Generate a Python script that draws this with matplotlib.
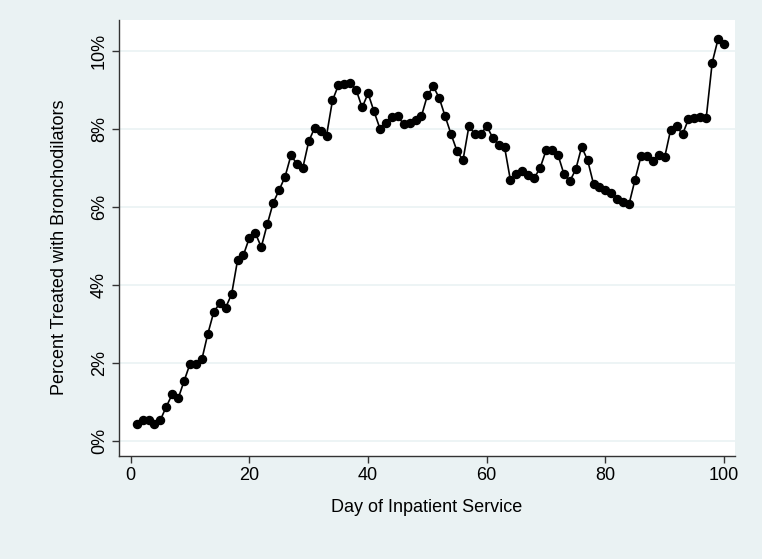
import matplotlib.pyplot as plt
from matplotlib.ticker import FuncFormatter

plt.rcParams['font.family'] = ['Liberation Sans', 'DejaVu Sans']

# day of service and share treated (in percent)
days = list(range(1, 101))
pct = [0.44, 0.55, 0.55, 0.44, 0.55, 0.89, 1.21, 1.10, 1.55, 1.99,
       1.98, 2.11, 2.76, 3.32, 3.54, 3.43, 3.77, 4.64, 4.78, 5.22,
       5.34, 4.98, 5.56, 6.11, 6.44, 6.78, 7.33, 7.12, 7.01, 7.69,
       8.04, 7.96, 7.84, 8.74, 9.13, 9.15, 9.19, 9.01, 8.56, 8.92,
       8.46, 8.02, 8.17, 8.31, 8.34, 8.13, 8.17, 8.23, 8.34, 8.87,
       9.10, 8.80, 8.33, 7.87, 7.44, 7.21, 8.08, 7.88, 7.88, 8.08,
       7.79, 7.61, 7.55, 6.69, 6.86, 6.93, 6.82, 6.75, 7.01, 7.46,
       7.48, 7.35, 6.86, 6.67, 6.97, 7.55, 7.21, 6.60, 6.52, 6.45,
       6.38, 6.22, 6.14, 6.09, 6.71, 7.31, 7.32, 7.19, 7.33, 7.29,
       7.99, 8.08, 7.87, 8.26, 8.30, 8.32, 8.30, 9.71, 10.32, 10.19]

xticks = [0, 20, 40, 60, 80, 100]
yticks = [0, 2, 4, 6, 8, 10]

bg = '#EAF2F3'
fig = plt.figure(figsize=(7.62, 5.59), dpi=100, facecolor=bg)
ax = fig.add_axes([0.156, 0.184, 0.809, 0.780])
ax.set_facecolor('white')

ax.plot(days, pct, color='black', lw=1.2, marker='o', ms=5.8, zorder=3)

ax.set_xlim(-2.0, 101.9)
ax.set_ylim(-0.38, 10.8)
ax.set_xticks(xticks)
ax.set_yticks(yticks)
ax.yaxis.set_major_formatter(FuncFormatter(lambda v, p: '%d%%' % v))
for lab in ax.get_yticklabels():
    lab.set_rotation(90)
    lab.set_va('center')

ax.grid(axis='y', color=bg, lw=1.2, zorder=0)
ax.set_axisbelow(True)
for s in ['top', 'right']:
    ax.spines[s].set_visible(False)
for s in ['left', 'bottom']:
    ax.spines[s].set_color('#333333')
    ax.spines[s].set_linewidth(1.0)
ax.tick_params(direction='out', length=5, width=1.0, color='#333333',
               labelsize=13, pad=3)

ax.set_xlabel('Day of Inpatient Service', fontsize=13)
ax.set_ylabel('Percent Treated with Bronchodilators', fontsize=13)
ax.xaxis.set_label_coords(0.5, -0.117)
ax.yaxis.set_label_coords(-0.096, 0.48)
ax.xaxis.label.set_va('center')
ax.yaxis.label.set_va('center')

fig.savefig('out.png', dpi=100, facecolor=bg)
